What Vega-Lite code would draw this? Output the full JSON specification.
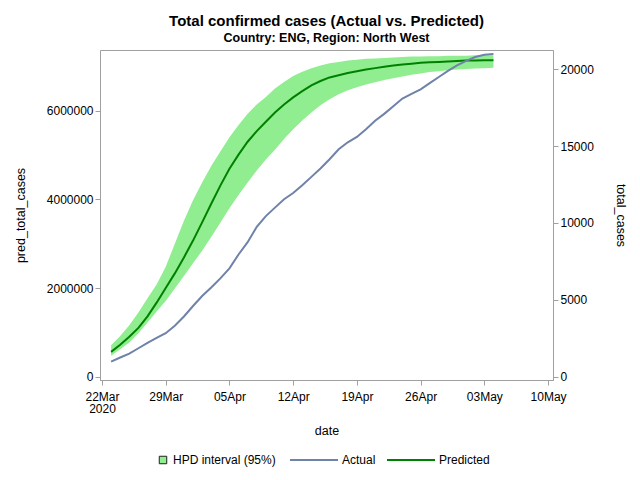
{
  "$schema": "https://vega.github.io/schema/vega-lite/v6.json",
  "autosize": {"type": "none"},
  "padding": {"left": 100, "top": 50, "right": 87, "bottom": 100},
  "width": 453,
  "height": 330,
  "title": {
    "text": "Total confirmed cases (Actual vs. Predicted)",
    "subtitle": "Country: ENG, Region: North West",
    "font": "Liberation Sans",
    "subtitleFont": "Liberation Sans",
    "fontSize": 15,
    "subtitleFontSize": 12.5,
    "subtitleFontWeight": "bold",
    "color": "#000000",
    "subtitleColor": "#000000",
    "anchor": "middle",
    "offset": 5,
    "subtitlePadding": 3
  },
  "config": {
    "font": "Liberation Sans",
    "view": {"stroke": "#a0a0a0", "strokeWidth": 1},
    "axis": {
      "grid": false,
      "domainColor": "#a0a0a0",
      "tickColor": "#a0a0a0",
      "tickSize": 5,
      "labelColor": "#000000",
      "titleColor": "#000000",
      "labelFont": "Liberation Sans",
      "titleFont": "Liberation Sans",
      "labelFontSize": 12,
      "titleFontSize": 12.5,
      "titleFontWeight": "normal"
    },
    "legend": {
      "title": null,
      "orient": "none",
      "direction": "horizontal",
      "padding": 0,
      "labelFontSize": 12,
      "labelColor": "#000000",
      "labelFont": "Liberation Sans",
      "symbolSize": 64,
      "symbolOpacity": 1
    }
  },
  "datasets": {
    "cases": [
      {"date": "2020-03-23", "pred": 560000, "lower": 470000, "upper": 710000, "actual": 980},
      {"date": "2020-03-24", "pred": 720000, "lower": 620000, "upper": 920000, "actual": 1250},
      {"date": "2020-03-25", "pred": 900000, "lower": 770000, "upper": 1160000, "actual": 1500},
      {"date": "2020-03-26", "pred": 1100000, "lower": 980000, "upper": 1450000, "actual": 1850},
      {"date": "2020-03-27", "pred": 1360000, "lower": 1220000, "upper": 1770000, "actual": 2200},
      {"date": "2020-03-28", "pred": 1670000, "lower": 1470000, "upper": 2080000, "actual": 2520},
      {"date": "2020-03-29", "pred": 2000000, "lower": 1710000, "upper": 2480000, "actual": 2830},
      {"date": "2020-03-30", "pred": 2330000, "lower": 1990000, "upper": 3000000, "actual": 3320},
      {"date": "2020-03-31", "pred": 2690000, "lower": 2270000, "upper": 3520000, "actual": 3920},
      {"date": "2020-04-01", "pred": 3070000, "lower": 2560000, "upper": 3980000, "actual": 4600},
      {"date": "2020-04-02", "pred": 3480000, "lower": 2840000, "upper": 4380000, "actual": 5250},
      {"date": "2020-04-03", "pred": 3900000, "lower": 3150000, "upper": 4750000, "actual": 5800},
      {"date": "2020-04-04", "pred": 4310000, "lower": 3470000, "upper": 5080000, "actual": 6400},
      {"date": "2020-04-05", "pred": 4690000, "lower": 3800000, "upper": 5400000, "actual": 7050},
      {"date": "2020-04-06", "pred": 5010000, "lower": 4100000, "upper": 5680000, "actual": 7950},
      {"date": "2020-04-07", "pred": 5300000, "lower": 4380000, "upper": 5930000, "actual": 8750},
      {"date": "2020-04-08", "pred": 5540000, "lower": 4650000, "upper": 6140000, "actual": 9750},
      {"date": "2020-04-09", "pred": 5750000, "lower": 4900000, "upper": 6310000, "actual": 10450},
      {"date": "2020-04-10", "pred": 5960000, "lower": 5120000, "upper": 6500000, "actual": 11000},
      {"date": "2020-04-11", "pred": 6140000, "lower": 5360000, "upper": 6650000, "actual": 11550},
      {"date": "2020-04-12", "pred": 6300000, "lower": 5580000, "upper": 6780000, "actual": 11950},
      {"date": "2020-04-13", "pred": 6440000, "lower": 5780000, "upper": 6880000, "actual": 12450},
      {"date": "2020-04-14", "pred": 6570000, "lower": 5960000, "upper": 6960000, "actual": 13000},
      {"date": "2020-04-15", "pred": 6670000, "lower": 6120000, "upper": 7020000, "actual": 13550},
      {"date": "2020-04-16", "pred": 6750000, "lower": 6260000, "upper": 7070000, "actual": 14150},
      {"date": "2020-04-17", "pred": 6800000, "lower": 6370000, "upper": 7100000, "actual": 14800},
      {"date": "2020-04-18", "pred": 6850000, "lower": 6460000, "upper": 7130000, "actual": 15250},
      {"date": "2020-04-19", "pred": 6890000, "lower": 6530000, "upper": 7150000, "actual": 15600},
      {"date": "2020-04-20", "pred": 6930000, "lower": 6590000, "upper": 7170000, "actual": 16100},
      {"date": "2020-04-21", "pred": 6960000, "lower": 6640000, "upper": 7180000, "actual": 16650},
      {"date": "2020-04-22", "pred": 6990000, "lower": 6690000, "upper": 7190000, "actual": 17100},
      {"date": "2020-04-23", "pred": 7020000, "lower": 6730000, "upper": 7200000, "actual": 17600},
      {"date": "2020-04-24", "pred": 7040000, "lower": 6770000, "upper": 7210000, "actual": 18100},
      {"date": "2020-04-25", "pred": 7060000, "lower": 6810000, "upper": 7220000, "actual": 18400},
      {"date": "2020-04-26", "pred": 7080000, "lower": 6840000, "upper": 7220000, "actual": 18700},
      {"date": "2020-04-27", "pred": 7090000, "lower": 6870000, "upper": 7230000, "actual": 19100},
      {"date": "2020-04-28", "pred": 7100000, "lower": 6890000, "upper": 7230000, "actual": 19500},
      {"date": "2020-04-29", "pred": 7110000, "lower": 6910000, "upper": 7240000, "actual": 19900},
      {"date": "2020-04-30", "pred": 7120000, "lower": 6930000, "upper": 7240000, "actual": 20250},
      {"date": "2020-05-01", "pred": 7130000, "lower": 6940000, "upper": 7240000, "actual": 20550},
      {"date": "2020-05-02", "pred": 7130000, "lower": 6950000, "upper": 7250000, "actual": 20800},
      {"date": "2020-05-03", "pred": 7140000, "lower": 6960000, "upper": 7250000, "actual": 20950},
      {"date": "2020-05-04", "pred": 7140000, "lower": 6970000, "upper": 7250000, "actual": 21000}
    ]
  },
  "data": {"name": "cases"},
  "encoding": {
    "x": {
      "field": "date",
      "type": "temporal",
      "scale": {
        "type": "utc",
        "domain": [
          {"year": 2020, "month": "Mar", "date": 21, "hours": 18, "minutes": 45, "utc": true},
          {"year": 2020, "month": "May", "date": 10, "hours": 13, "utc": true}
        ]
      },
      "axis": {
        "title": "date",
        "values": [
          {"year": 2020, "month": "Mar", "date": 22, "utc": true},
          {"year": 2020, "month": "Mar", "date": 29, "utc": true},
          {"year": 2020, "month": "Apr", "date": 5, "utc": true},
          {"year": 2020, "month": "Apr", "date": 12, "utc": true},
          {"year": 2020, "month": "Apr", "date": 19, "utc": true},
          {"year": 2020, "month": "Apr", "date": 26, "utc": true},
          {"year": 2020, "month": "May", "date": 3, "utc": true},
          {"year": 2020, "month": "May", "date": 10, "utc": true}
        ],
        "labelExpr": "utcmonth(datum.value) == 2 && utcdate(datum.value) == 22 ? [utcFormat(datum.value, '%d%b'), '2020'] : utcFormat(datum.value, '%d%b')",
        "labelLineHeight": 12.5,
        "labelPadding": 6,
        "labelFlush": false,
        "titlePadding": 10
      }
    }
  },
  "layer": [
    {
      "layer": [
        {
          "mark": {"type": "area", "opacity": 1},
          "encoding": {
            "y": {
              "field": "lower",
              "type": "quantitative",
              "scale": {"domain": [-74400, 7369000], "nice": false, "zero": false},
              "axis": {
                "title": "pred_total_cases",
                "values": [0, 2000000, 4000000, 6000000],
                "format": "d",
                "titlePadding": 19
              }
            },
            "y2": {"field": "upper"},
            "fill": {
              "datum": "HPD interval (95%)",
              "type": "nominal",
              "scale": {"domain": ["HPD interval (95%)"], "range": ["#90ee90"]},
              "legend": {
                "legendX": 57,
                "legendY": 404,
                "symbolType": "square",
                "symbolSize": 56,
                "symbolStrokeColor": "#202020",
                "symbolStrokeWidth": 1,
                "labelOffset": 4
              }
            }
          }
        },
        {
          "mark": {"type": "line", "strokeWidth": 2},
          "encoding": {
            "y": {"field": "pred", "type": "quantitative"},
            "stroke": {
              "datum": "Predicted",
              "type": "nominal",
              "scale": {"domain": ["Actual", "Predicted"], "range": ["#6f82a8", "#008000"]},
              "legend": {
                "legendX": 188,
                "legendY": 404,
                "symbolType": "M-6,0H6",
                "symbolSize": 64,
                "symbolOffset": 20,
                "symbolStrokeWidth": 2,
                "labelOffset": 22,
                "columnPadding": 7
              }
            }
          }
        }
      ]
    },
    {
      "mark": {"type": "line", "strokeWidth": 2},
      "encoding": {
        "y": {
          "field": "actual",
          "type": "quantitative",
          "scale": {"domain": [-215, 21256], "nice": false, "zero": false},
          "axis": {
            "orient": "right",
            "title": "total_cases",
            "values": [0, 5000, 10000, 15000, 20000],
            "format": "d",
            "titlePadding": 20
          }
        },
        "stroke": {"datum": "Actual", "type": "nominal"}
      }
    }
  ],
  "resolve": {"scale": {"y": "independent"}}
}
